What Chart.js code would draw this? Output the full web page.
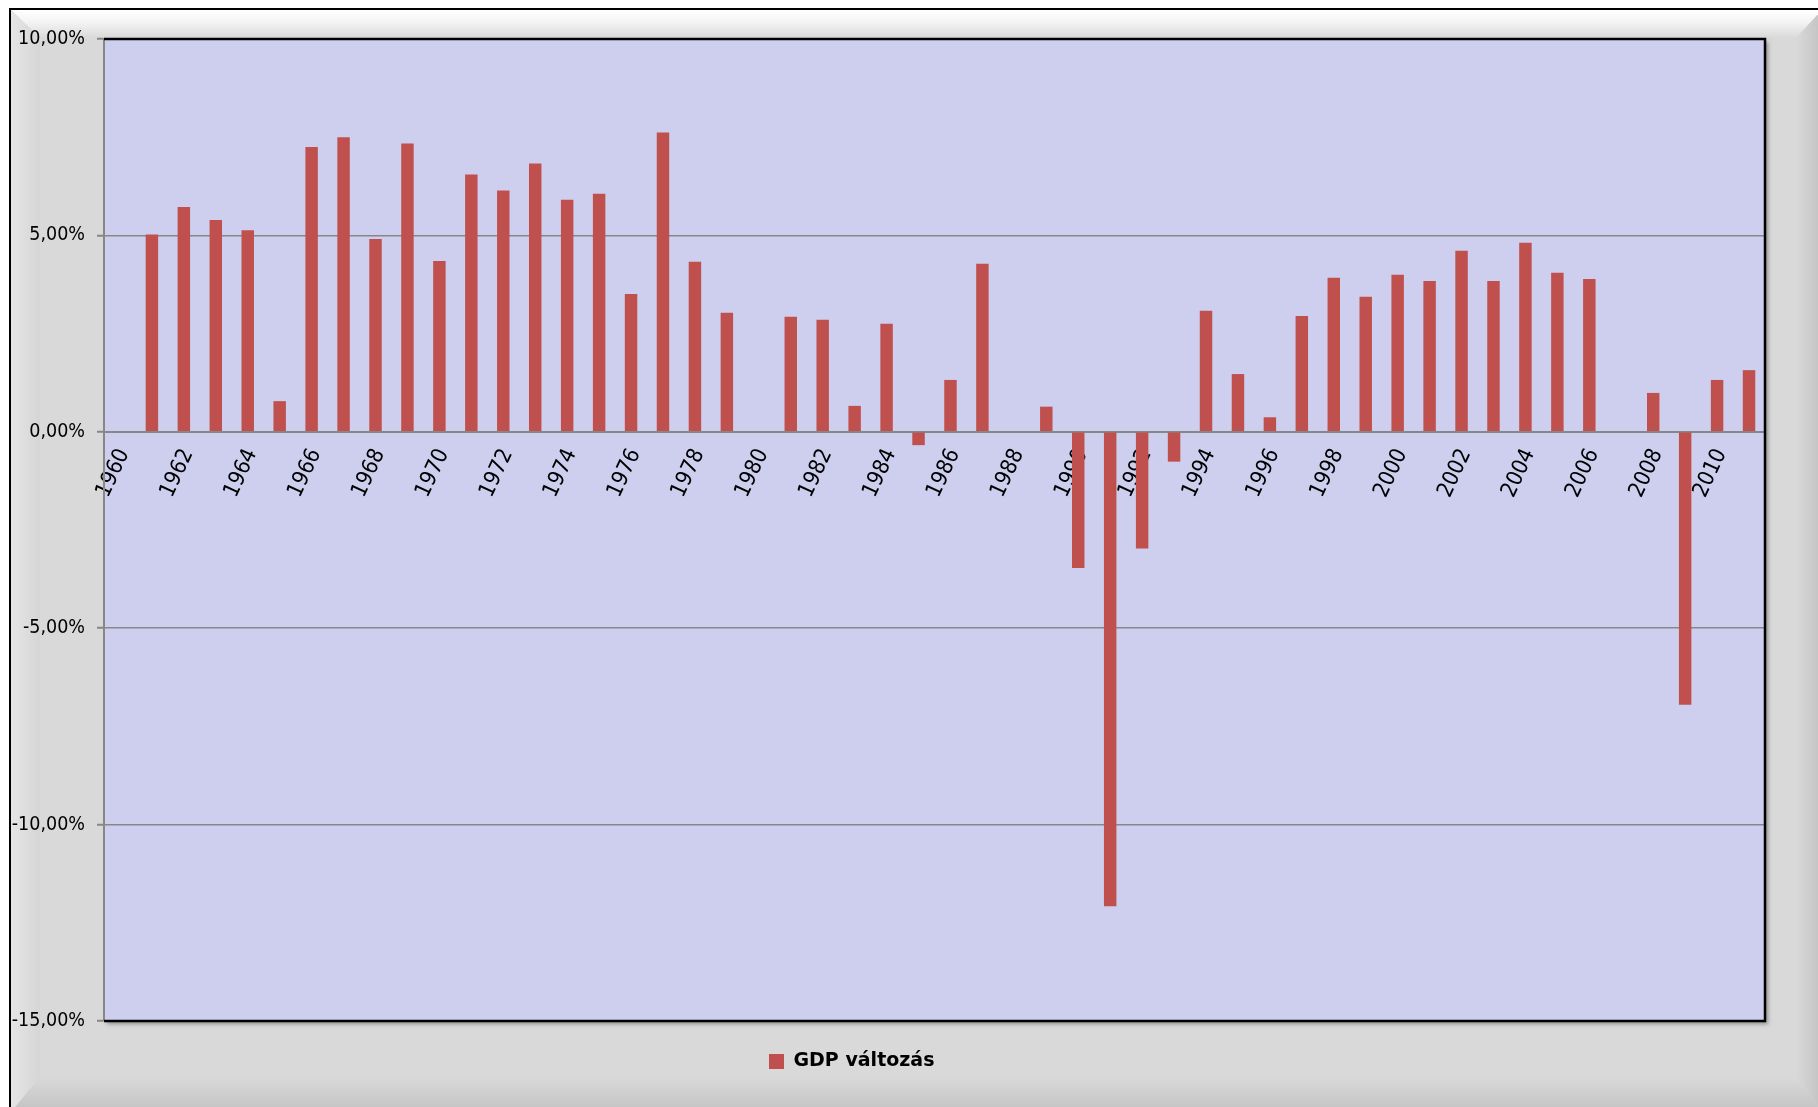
<!DOCTYPE html>
<html>
<head>
<meta charset="utf-8">
<script src="https://cdn.jsdelivr.net/npm/chart.js@4/dist/chart.umd.min.js"></script>
<style>
  html, body { margin: 0; padding: 0; background: #ffffff; }
  #wrap { width: 1818px; height: 1107px; position: relative; }
  canvas { display: block; }
</style>
</head>
<body>
<div id="wrap"><canvas id="c" width="1818" height="1107"></canvas></div>
<script>
// ---- data ----
const years = ['1960','1961','1962','1963','1964','1965','1966','1967','1968','1969',
               '1970','1971','1972','1973','1974','1975','1976','1977','1978','1979',
               '1980','1981','1982','1983','1984','1985','1986','1987','1988','1989',
               '1990','1991','1992','1993','1994','1995','1996','1997','1998','1999',
               '2000','2001','2002','2003','2004','2005','2006','2007','2008','2009',
               '2010','2011'];
const gdpChange = [null, 5.02, 5.72, 5.39, 5.13, 0.78, 7.25, 7.50, 4.91, 7.34,
                   4.35, 6.55, 6.14, 6.83, 5.91, 6.06, 3.51, 7.62, 4.33, 3.03,
                   null, 2.93, 2.85, 0.66, 2.75, -0.34, 1.32, 4.28, null, 0.64,
                   -3.47, -12.08, -2.97, -0.76, 3.08, 1.47, 0.37, 2.95, 3.92, 3.44,
                   4.00, 3.84, 4.61, 3.84, 4.81, 4.05, 3.89, null, 0.99, -6.95,
                   1.32, 1.57];
const seriesLabel = 'GDP változás';
const yMin = -15, yMax = 10, yStep = 5;

// ---- styling ----
const BAR = '#C0504D';
const PLOT_BG = '#CECFEE';
const GRID = '#878787';
const FONT = 'DejaVu Sans';
const NARROW = '"DejaVu Sans Condensed", "Liberation Sans", sans-serif';

const framePlugin = {
  id: 'frame',
  beforeLayout(chart) {
    const lg = chart.legend;
    if (lg && !lg._patchedFit) {
      const orig = lg.fit;
      lg.fit = function () { orig.call(this); this._realH = this.height; this.height = 0; };
      lg._patchedFit = true;
    }
  },
  beforeDraw(chart) {
    const ctx = chart.ctx, W = chart.width, H = chart.height;
    ctx.save();
    ctx.fillStyle = '#ffffff';
    ctx.fillRect(0, 0, W, H);
    const L = 11, T = 10, R = W + 4, B = H + 5;
    const iL = 40, iT = 38, iR = W - 22, iB = H - 30;
    ctx.fillStyle = '#d9d9d9';
    ctx.fillRect(L, T, R - L, B - T);
    let g;
    g = ctx.createLinearGradient(0, T, 0, iT);
    g.addColorStop(0, '#ffffff'); g.addColorStop(0.45, '#f3f3f3'); g.addColorStop(1, '#d9d9d9');
    ctx.fillStyle = g;
    ctx.beginPath(); ctx.moveTo(L, T); ctx.lineTo(R, T); ctx.lineTo(iR, iT); ctx.lineTo(iL, iT); ctx.closePath(); ctx.fill();
    g = ctx.createLinearGradient(L, 0, iL, 0);
    g.addColorStop(0, '#e6e6e6'); g.addColorStop(1, '#d5d5d5');
    ctx.fillStyle = g;
    ctx.beginPath(); ctx.moveTo(L, T); ctx.lineTo(iL, iT); ctx.lineTo(iL, iB); ctx.lineTo(L, B); ctx.closePath(); ctx.fill();
    g = ctx.createLinearGradient(iR, 0, R, 0);
    g.addColorStop(0, '#d9d9d9'); g.addColorStop(1, '#c2c2c2');
    ctx.fillStyle = g;
    ctx.beginPath(); ctx.moveTo(R, T); ctx.lineTo(R, B); ctx.lineTo(iR, iB); ctx.lineTo(iR, iT); ctx.closePath(); ctx.fill();
    g = ctx.createLinearGradient(0, iB, 0, B);
    g.addColorStop(0, '#d9d9d9'); g.addColorStop(1, '#c2c2c2');
    ctx.fillStyle = g;
    ctx.beginPath(); ctx.moveTo(L, B); ctx.lineTo(iL, iB); ctx.lineTo(iR, iB); ctx.lineTo(R, B); ctx.closePath(); ctx.fill();
    ctx.strokeStyle = '#000'; ctx.lineWidth = 2;
    ctx.beginPath(); ctx.moveTo(10, H + 2); ctx.lineTo(10, 9); ctx.lineTo(W + 2, 9); ctx.stroke();
    const a = chart.chartArea;
    ctx.shadowColor = 'rgba(0,0,0,0.35)';
    ctx.shadowBlur = 4; ctx.shadowOffsetX = 3; ctx.shadowOffsetY = 3;
    ctx.fillStyle = PLOT_BG;
    ctx.fillRect(a.left, a.top, a.right - a.left, a.bottom - a.top);
    ctx.restore();
    const lg = chart.legend;
    if (lg) {
      const h = lg._realH || 40;
      const w = 400;
      lg.left = 759; lg.right = lg.left + w; lg.width = w;
      lg.top = 1042; lg.bottom = lg.top + h; lg.height = h;
    }
  },
  afterDraw(chart) {
    const ctx = chart.ctx, a = chart.chartArea;
    ctx.save();
    ctx.strokeStyle = '#000'; ctx.lineWidth = 2.5;
    ctx.beginPath();
    ctx.moveTo(a.left, a.top);
    ctx.lineTo(a.right, a.top);
    ctx.lineTo(a.right, a.bottom);
    ctx.lineTo(a.left, a.bottom);
    ctx.stroke();
    ctx.restore();
  }
};

new Chart(document.getElementById('c'), {
  type: 'bar',
  data: {
    labels: years,
    datasets: [{
      label: seriesLabel,
      data: gdpChange,
      backgroundColor: BAR,
      borderWidth: 0,
      barPercentage: 0.39,
      categoryPercentage: 1.0
    }]
  },
  options: {
    responsive: false,
    animation: false,
    devicePixelRatio: 1,
    layout: { padding: { left: 0, top: 39, right: 53, bottom: 86 } },
    plugins: {
      legend: {
        display: true,
        position: 'bottom',
        align: 'start',
        labels: {
          font: { family: FONT, size: 19, weight: 'bold' },
          color: '#000',
          boxWidth: 15,
          boxHeight: 15,
          padding: 10
        }
      },
      tooltip: { enabled: false }
    },
    scales: {
      x: {
        position: { y: 0 },
        z: 1,
        offset: true,
        grid: { display: false, drawTicks: false },
        border: { display: true, color: GRID, width: 2 },
        ticks: {
          autoSkip: false,
          minRotation: 65,
          maxRotation: 65,
          padding: 13,
          labelOffset: 4,
          color: '#000',
          font: { family: NARROW, size: 22 },
          callback: function (v, i) { return i % 2 === 0 ? this.getLabelForValue(v) : ''; }
        }
      },
      y: {
        min: yMin,
        max: yMax,
        afterFit(scale) { scale.width = 104; },
        grid: {
          color: GRID,
          lineWidth: 1.5,
          drawTicks: true,
          tickLength: 7,
          tickColor: GRID,
          tickWidth: 2
        },
        border: { display: true, color: GRID, width: 2 },
        ticks: {
          stepSize: yStep,
          padding: 12,
          color: '#000',
          font: { family: NARROW, size: 19.5 },
          callback: (v) => v.toFixed(2).replace('.', ',') + '%'
        }
      }
    }
  },
  plugins: [framePlugin]
});
</script>
</body>
</html>
